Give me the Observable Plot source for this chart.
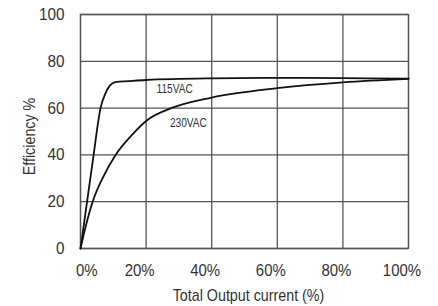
<!DOCTYPE html>
<html>
<head>
<meta charset="utf-8">
<script src="https://cdn.jsdelivr.net/npm/d3@7"></script>
<script src="https://cdn.jsdelivr.net/npm/@observablehq/plot@0.6"></script>
<style>
  html, body { margin: 0; padding: 0; background: #fff; }
  #chart { width: 438px; height: 306px; }
</style>
</head>
<body>
<div id="chart"></div>
<script>
// Output current (%) and efficiency (%)
const load115 = [0, 2, 4, 6.1, 7.5, 9, 10.6, 14.6, 20, 40, 60, 80, 100];
const eff115  = [0, 20, 40, 60, 66, 69.7, 71.1, 71.5, 72, 72.7, 72.9, 72.8, 72.6];
const load230 = [0, 1.5, 3.7, 6.7, 10.7, 16, 20, 28.5, 40, 60, 80, 100];
const eff230  = [0, 9, 20, 30, 40, 49, 54.5, 60.4, 64.5, 68.5, 71, 72.5];

const seriesNames = ["115VAC", "230VAC"];
const labelX = [28.7, 32.9];
const labelY = [68, 53.8];

const xTicks = [0, 20, 40, 60, 80, 100];
const xTickLabels = ["0%", "20%", "40%", "60%", "80%", "100%"];
const yTicks = [0, 20, 40, 60, 80, 100];
const xTitle = "Total Output current (%)";
const yTitle = "Efficiency %";

const s115 = load115.map((x, i) => ({x, y: eff115[i]}));
const s230 = load230.map((x, i) => ({x, y: eff230[i]}));
const labels = seriesNames.map((t, i) => ({t, x: labelX[i], y: labelY[i]}));
const fmt = d => xTickLabels[xTicks.indexOf(d)];

const FONT = "'Liberation Sans', Arial, Helvetica, sans-serif";
const gridStyle = {stroke: "#555", strokeOpacity: 1, strokeWidth: 1.3};

const chart = Plot.plot({
  width: 438,
  height: 306,
  marginLeft: 80,
  marginRight: 30,
  marginTop: 14,
  marginBottom: 58,
  style: {fontFamily: FONT, color: "#222", background: "#fff"},
  x: {domain: [0, 100]},
  y: {domain: [0, 100]},
  marks: [
    Plot.gridX(xTicks, gridStyle),
    Plot.gridY(yTicks, gridStyle),
    Plot.frame({stroke: "#555", strokeWidth: 1.3}),
    Plot.line(s115, {x: "x", y: "y", curve: "monotone-x", stroke: "#111", strokeWidth: 1.8}),
    Plot.line(s230, {x: "x", y: "y", curve: "monotone-x", stroke: "#111", strokeWidth: 1.8}),
    Plot.text(labels, {x: "x", y: "y", text: "t", fontSize: 12.5, fill: "#333"}),
    Plot.axisY(yTicks, {tickSize: 0, tickPadding: 16, fontSize: 17, label: null, fill: "#333"}),
    Plot.axisX([0], {tickSize: 0, tickPadding: 15, fontSize: 17, label: null, tickFormat: fmt, dx: 6.3, fill: "#333"}),
    Plot.axisX(xTicks.slice(1), {tickSize: 0, tickPadding: 15, fontSize: 17, label: null, tickFormat: fmt, dx: -6.5, fill: "#333"}),
    Plot.text([xTitle], {frameAnchor: "bottom", lineAnchor: "top", textAnchor: "middle", dx: 4, dy: 40.5, fontSize: 17, fill: "#333"}),
    Plot.text([yTitle], {frameAnchor: "left", rotate: -90, lineAnchor: "bottom", textAnchor: "middle", dx: -46, dy: 5, fontSize: 17, fill: "#333"})
  ]
});
document.getElementById("chart").appendChild(chart);

// Condense the glyphs horizontally to mimic the reference's narrow typeface
chart.querySelectorAll("text").forEach(t => {
  const role = t.parentNode.getAttribute("aria-label") || "";
  const s = t.textContent;
  let factor;
  if (role === "y-axis tick label") factor = 0.9;
  else if (role === "x-axis tick label") factor = 0.88;
  else if (seriesNames.includes(s)) factor = 0.81;
  else factor = 0.84;
  const w = t.getComputedTextLength();
  if (w > 0) {
    t.setAttribute("textLength", (w * factor).toFixed(2));
    t.setAttribute("lengthAdjust", "spacingAndGlyphs");
  }
});
</script>
</body>
</html>
